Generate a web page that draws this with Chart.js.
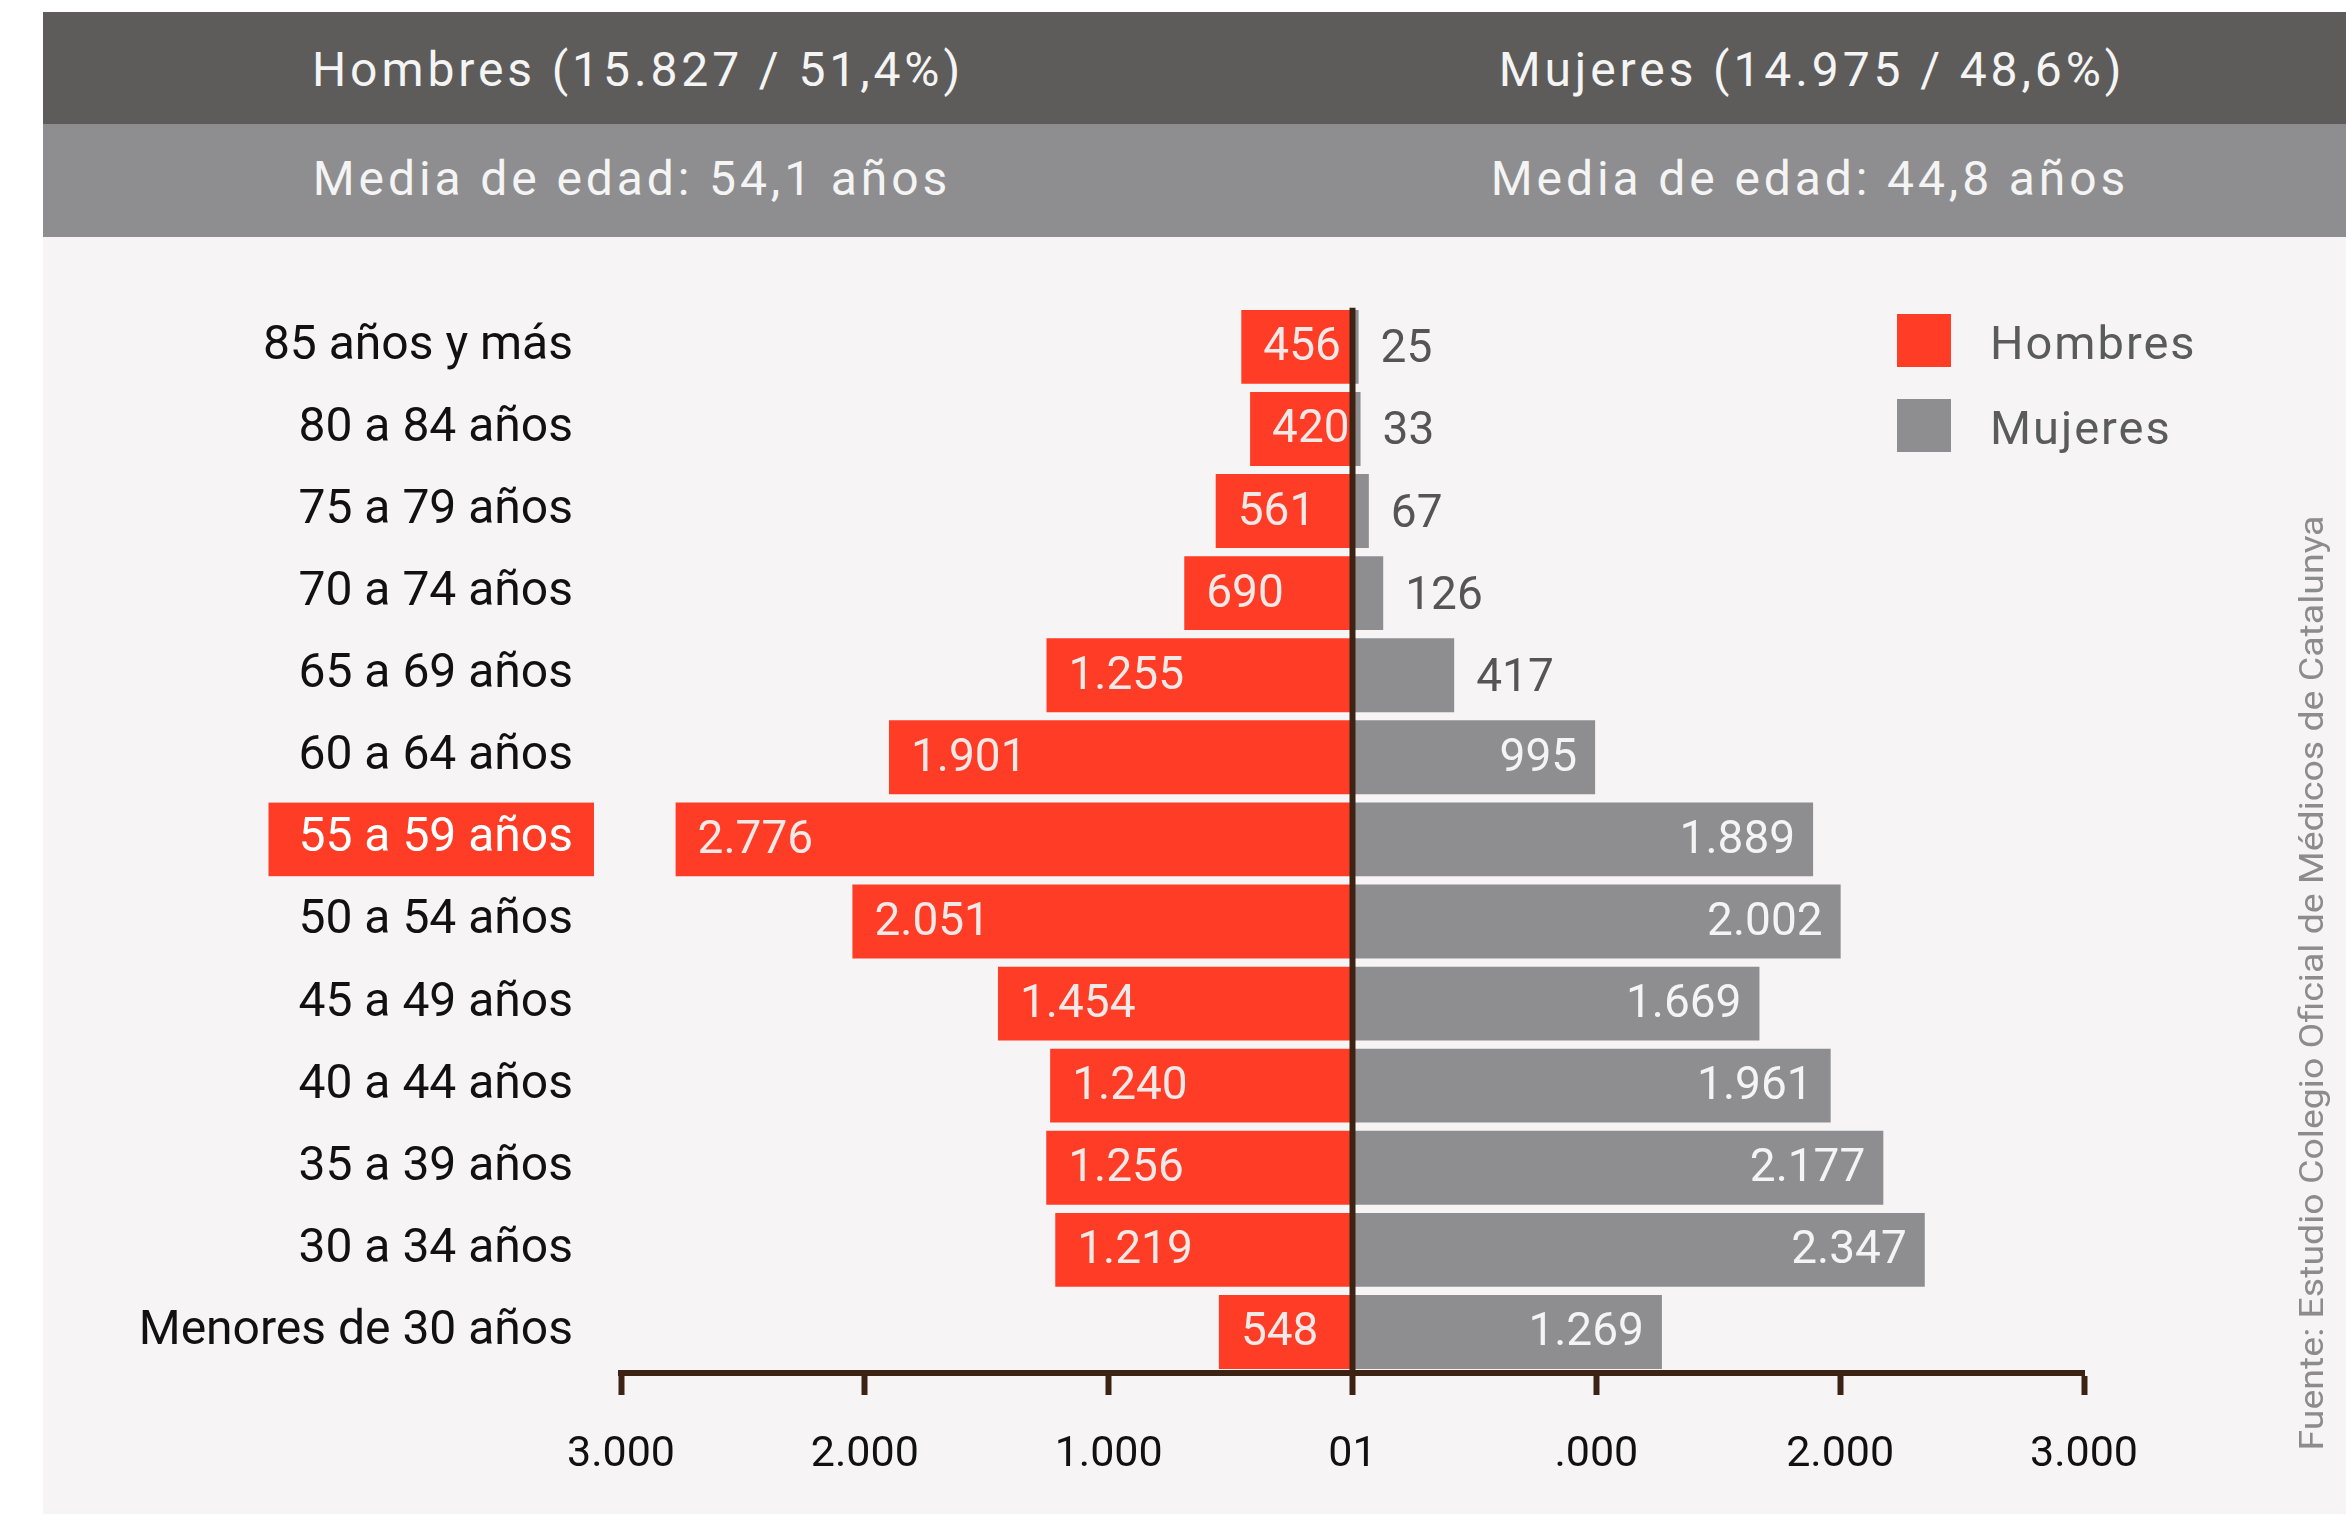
<!DOCTYPE html>
<html>
<head>
<meta charset="utf-8">
<script src="https://cdn.jsdelivr.net/npm/chart.js@4"></script>
<style>
body{margin:0;background:#fff;width:2346px;height:1516px;position:relative;overflow:hidden;font-family:Roboto,sans-serif}
.band{position:absolute;left:43px;width:2303px}
#top{top:12px;height:112px;background:#5d5c5a}
#sub{top:124px;height:113px;background:#8e8e90}
#plot{top:237px;height:1277px;background:#f6f4f5}
.h{position:absolute;color:#f4f4f4;font-size:48px;letter-spacing:3.9px;transform:translate(-50%,-50%);white-space:nowrap}
#piramide{position:absolute;left:0;top:237px}
</style>
</head>
<body>
<div class="band" id="top"></div>
<div class="band" id="sub"></div>
<div class="band" id="plot"></div>
<div class="h" style="left:638px;top:69px">Hombres (15.827 / 51,4%)</div>
<div class="h" style="left:1812px;top:69px">Mujeres (14.975 / 48,6%)</div>
<div class="h" style="left:632px;top:178px">Media de edad: 54,1 años</div>
<div class="h" style="left:1810px;top:178px">Media de edad: 44,8 años</div>
<canvas id="piramide" width="2346" height="1279"></canvas>
<script>
var edades = ['85 años y más','80 a 84 años','75 a 79 años','70 a 74 años','65 a 69 años','60 a 64 años',
  '55 a 59 años','50 a 54 años','45 a 49 años','40 a 44 años','35 a 39 años','30 a 34 años','Menores de 30 años'];
var hombres = [456,420,561,690,1255,1901,2776,2051,1454,1240,1256,1219,548];
var mujeres = [25,33,67,126,417,995,1889,2002,1669,1961,2177,2347,1269];
var ejeX = ['3.000','2.000','1.000','01','.000','2.000','3.000'];
var destacado = 6; // 55 a 59 años
var fuente = 'Fuente: Estudio Colegio Oficial de Médicos de Catalunya';

var rojo = '#ff3d27';
var gris = '#8e8e90';
var marron = '#3d2314';

function fmt(n) {
  return String(n).replace(/\B(?=(\d{3})+(?!\d))/g, '.');
}

// etiquetas de valores, linea central, leyenda y fuente
var extras = {
  id: 'extras',
  afterDatasetsDraw: function(chart) {
    var ctx = chart.ctx;
    var area = chart.chartArea;
    var x0 = chart.scales.x.getPixelForValue(0);
    ctx.save();
    ctx.strokeStyle = marron;
    ctx.lineWidth = 6;
    ctx.beginPath();
    ctx.moveTo(x0, area.top + 2);
    ctx.lineTo(x0, area.bottom);
    ctx.stroke();

    ctx.font = '46px Roboto';
    ctx.textBaseline = 'middle';
    chart.getDatasetMeta(0).data.forEach(function(bar, i) {
      ctx.fillStyle = '#f1e9e7';
      ctx.textAlign = 'left';
      ctx.fillText(fmt(hombres[i]), bar.x + 22, bar.y + 2);
    });
    chart.getDatasetMeta(1).data.forEach(function(bar, i) {
      if (mujeres[i] >= 900) {
        ctx.fillStyle = '#f4f4f4';
        ctx.textAlign = 'right';
        ctx.fillText(fmt(mujeres[i]), bar.x - 18, bar.y + 2);
      } else {
        ctx.fillStyle = '#555';
        ctx.textAlign = 'left';
        ctx.fillText(fmt(mujeres[i]), bar.x + 22, bar.y + 4);
      }
    });

    // leyenda
    ctx.font = '47px Roboto';
    ctx.letterSpacing = '2px';
    ctx.textAlign = 'left';
    chart.data.datasets.forEach(function(ds, i) {
      var y = 77 + i * 85;
      ctx.fillStyle = ds.backgroundColor;
      ctx.fillRect(1897, y, 54, 53);
      ctx.fillStyle = '#5a5c5c';
      ctx.fillText(ds.label, 1990, y + 33);
    });
    ctx.letterSpacing = '0px';

    // fuente
    ctx.translate(2314, 746);
    ctx.rotate(-Math.PI / 2);
    ctx.font = '34px Roboto';
    var w = ctx.measureText(fuente).width;
    ctx.scale(935 / w, 1);
    ctx.fillStyle = '#8c8c8c';
    ctx.textAlign = 'center';
    ctx.fillText(fuente, 0, 0);
    ctx.restore();
  }
};

var ctx = document.getElementById('piramide');
var piramide = new Chart(ctx, {
  type: 'bar',
  data: {
    labels: edades,
    datasets: [{
      label: 'Hombres',
      data: hombres.map(function(v) { return -v; }),
      backgroundColor: rojo,
      barPercentage: 0.9,
      categoryPercentage: 1
    }, {
      label: 'Mujeres',
      data: mujeres,
      backgroundColor: gris,
      barPercentage: 0.9,
      categoryPercentage: 1
    }]
  },
  options: {
    indexAxis: 'y',
    responsive: false,
    animation: false,
    devicePixelRatio: 1,
    layout: { padding: { top: 68, right: 262, left: 0, bottom: 0 } },
    plugins: { legend: { display: false }, tooltip: { enabled: false } },
    scales: {
      x: {
        stacked: true,
        min: -3000,
        max: 3000,
        afterFit: function(s) { s.height = 143; },
        border: { color: marron, width: 6, z: 1 },
        grid: { drawOnChartArea: false, tickColor: marron, tickWidth: 6, tickLength: 22 },
        ticks: {
          stepSize: 1000,
          padding: 34,
          color: '#111',
          font: { family: 'Roboto', size: 43 },
          maxRotation: 0,
          callback: function(v, i) { return ejeX[i]; }
        }
      },
      y: {
        stacked: true,
        afterFit: function(s) { s.width = 621; },
        border: { display: false },
        grid: { display: false },
        ticks: {
          padding: 40,
          font: { family: 'Roboto', size: 48 },
          color: function(c) { return c.index === destacado ? '#fff' : '#111'; },
          showLabelBackdrop: function(c) { return c.index === destacado; },
          backdropColor: rojo,
          backdropPadding: { left: 30, right: 21, top: 8, bottom: 8 }
        }
      }
    }
  },
  plugins: [extras]
});
</script>
</body>
</html>
